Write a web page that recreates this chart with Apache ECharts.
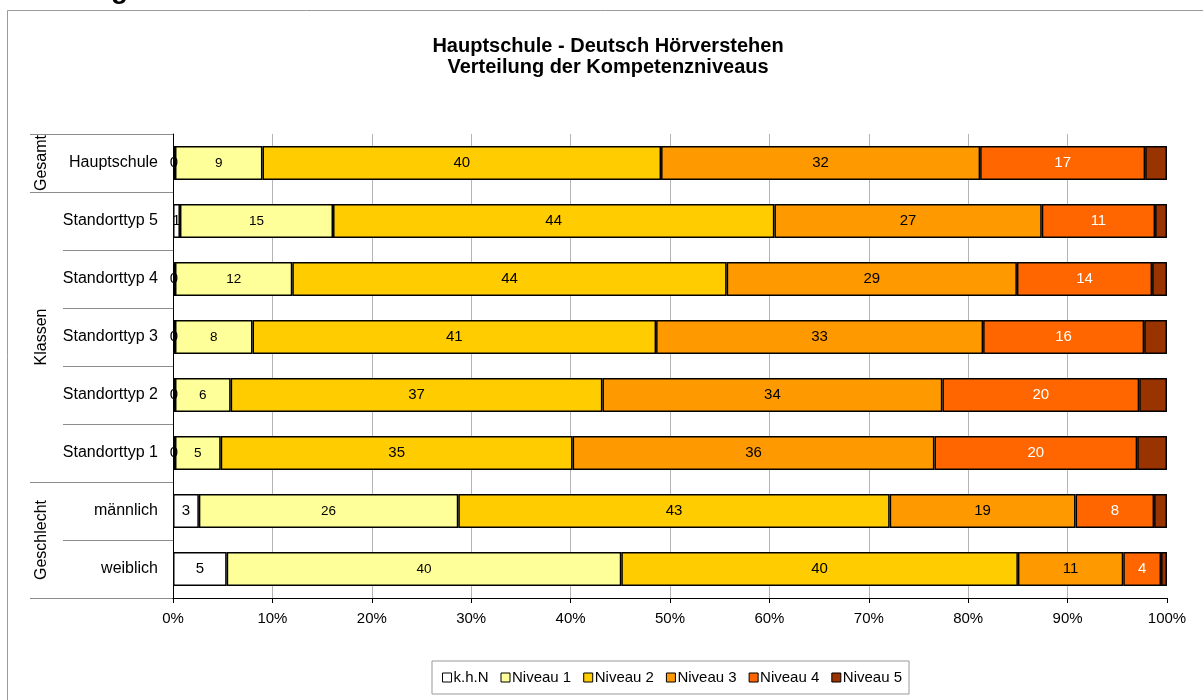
<!DOCTYPE html>
<html>
<head>
<meta charset="utf-8">
<title>Hauptschule - Deutsch Hörverstehen</title>
<script src="https://cdn.jsdelivr.net/npm/echarts@6/dist/echarts.min.js"></script>
<style>
  html, body { margin: 0; padding: 0; background: #fff; }
  #chart { width: 1203px; height: 700px; }
</style>
</head>
<body>
<div id="chart"></div>
<script>
// Rows of the stacked bar chart (top to bottom)
const categories = ['Hauptschule', 'Standorttyp 5', 'Standorttyp 4', 'Standorttyp 3',
                    'Standorttyp 2', 'Standorttyp 1', 'männlich', 'weiblich'];

// Share of pupils per competence level, in percent
const khn     = [0.2, 0.7, 0.2, 0.2, 0.2, 0.2, 2.6, 5.4];
const niveau1 = [8.8, 15.4, 11.8, 7.8, 5.6, 4.6, 26.1, 39.7];
const niveau2 = [40.1, 44.4, 43.7, 40.6, 37.4, 35.4, 43.4, 39.9];
const niveau3 = [32.1, 26.9, 29.2, 32.9, 34.2, 36.4, 18.7, 10.6];
const niveau4 = [16.6, 11.4, 13.6, 16.2, 19.8, 20.4, 7.9, 3.8];
const niveau5 = [2.2, 1.2, 1.5, 2.3, 2.8, 3.0, 1.3, 0.6];

const seriesNames = ['k.h.N', 'Niveau 1', 'Niveau 2', 'Niveau 3', 'Niveau 4', 'Niveau 5'];

// Row groups of the two-level category axis
const groups = [
  { name: 'Gesamt', first: 0, last: 0 },
  { name: 'Klassen', first: 1, last: 5 },
  { name: 'Geschlecht', first: 6, last: 7 }
];

const FONT = '"Liberation Sans", Arial, Helvetica, sans-serif';
const colors = ['#ffffff', '#ffff99', '#ffcc00', '#ff9900', '#ff6600', '#993300'];
const labelColors = ['#000', '#000', '#000', '#000', '#fff', null];
const labelSizes = [15, 13.5, 15, 15, 15, 0];
const values = [khn, niveau1, niveau2, niveau3, niveau4, niveau5];

const chart = echarts.init(document.getElementById('chart'), null, { renderer: 'canvas' });

const series = seriesNames.map((name, i) => ({
  name: name,
  type: 'bar',
  stack: 'total',
  data: values[i],
  barCategoryGap: '41%',
  itemStyle: { color: colors[i], borderColor: '#000', borderWidth: 1.5 },
  emphasis: { disabled: true },
  label: labelColors[i] ? {
    show: true,
    position: 'inside',
    color: labelColors[i],
    fontFamily: FONT,
    fontSize: labelSizes[i],
    formatter: p => String(Math.round(p.value))
  } : { show: false }
}));

chart.setOption({
  animation: false,
  backgroundColor: '#fff',
  textStyle: { fontFamily: FONT },
  title: {
    text: 'Hauptschule - Deutsch Hörverstehen\nVerteilung der Kompetenzniveaus',
    left: 603,
    top: 31,
    textAlign: 'center',
    textStyle: { fontFamily: FONT, fontSize: 20, fontWeight: 'bold', color: '#000', lineHeight: 21 }
  },
  legend: {
    data: seriesNames,
    left: 432,
    top: 661,
    orient: 'horizontal',
    icon: 'rect',
    itemWidth: 9,
    itemHeight: 9,
    itemGap: 12,
    padding: [9, 7, 9, 10],
    borderColor: '#999',
    borderWidth: 1,
    itemStyle: { borderColor: '#000', borderWidth: 1 },
    textStyle: { fontFamily: FONT, fontSize: 15, color: '#000', padding: [0, 0, 0, -3] },
    selectedMode: false
  },
  grid: { left: 173, right: 36, top: 134, bottom: 102, containLabel: false },
  xAxis: {
    type: 'value',
    min: 0,
    max: 100,
    interval: 10,
    axisLine: { show: true, lineStyle: { color: '#000', width: 1 } },
    axisTick: { show: true, length: 5, lineStyle: { color: '#000' } },
    axisLabel: { formatter: '{value}%', fontFamily: FONT, fontSize: 15, color: '#000', margin: 13 },
    splitLine: { show: true, showMinLine: false, showMaxLine: false, lineStyle: { color: '#b4b4b4', width: 1 } }
  },
  yAxis: {
    type: 'category',
    data: categories,
    inverse: true,
    axisLine: { show: true, lineStyle: { color: '#000', width: 1 } },
    axisTick: { show: false },
    axisLabel: { fontFamily: FONT, fontSize: 16, color: '#000', margin: 15 },
    splitLine: { show: false }
  },
  series: series
});

// Two-level axis decoration: separator lines and rotated group names
function drawAxisGroups() {
  const y = i => chart.convertToPixel({ yAxisIndex: 0 }, categories[i]);
  const step = y(1) - y(0);
  const axisX = chart.convertToPixel({ xAxisIndex: 0 }, 0);
  const groupStart = 30, innerStart = 63;
  const elements = [];

  // outer chart-area frame
  elements.push({
    type: 'rect', silent: true, z: 0,
    shape: { x: 7.5, y: 10.5, width: 1300, height: 800 },
    style: { fill: 'none', stroke: '#9a9a9a', lineWidth: 1 }
  });
  // heading glyph above the frame
  elements.push({
    type: 'text', silent: true,
    x: 111, y: 4,
    style: { text: 'g', font: 'bold 28px ' + FONT, fill: '#000', verticalAlign: 'bottom' }
  });

  const groupBoundary = new Set();
  groups.forEach(g => { groupBoundary.add(g.first); groupBoundary.add(g.last + 1); });
  for (let b = 0; b <= categories.length; b++) {
    const yy = Math.round(y(0) + (b - 0.5) * step) + 0.5;
    const x0 = groupBoundary.has(b) ? groupStart : innerStart;
    elements.push({
      type: 'line', silent: true,
      shape: { x1: x0, y1: yy, x2: axisX, y2: yy },
      style: { stroke: '#8c8c8c', lineWidth: 1 }
    });
  }

  groups.forEach(g => {
    const cy = (y(g.first) + y(g.last)) / 2;
    elements.push({
      type: 'text', silent: true,
      x: 42, y: cy, rotation: Math.PI / 2,
      style: { text: g.name, font: '16px ' + FONT, fill: '#000', align: 'center', verticalAlign: 'middle' }
    });
  });

  chart.setOption({ graphic: { elements: elements } });
}
drawAxisGroups();
</script>
</body>
</html>
